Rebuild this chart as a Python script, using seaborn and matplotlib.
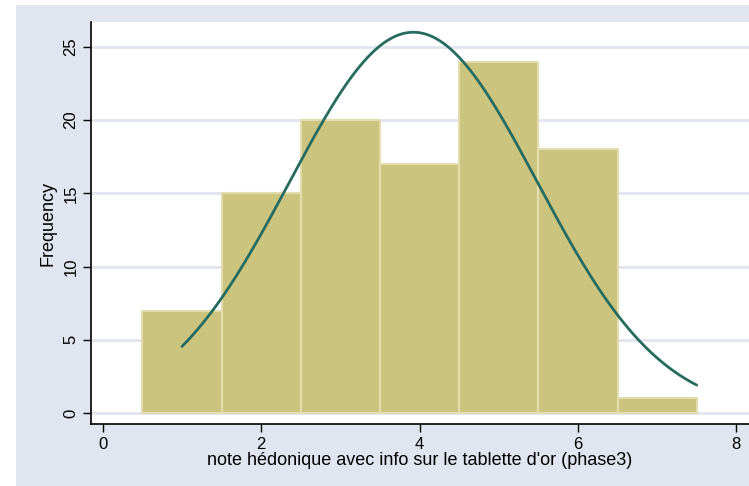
import numpy as np
import pandas as pd
import matplotlib
matplotlib.use("Agg")
import matplotlib.pyplot as plt
import seaborn as sns

# histogram data (bin centres, counts)
bin_centers = [1, 2, 3, 4, 5, 6, 7]
counts = [7, 15, 20, 17, 24, 18, 1]
bin_edges = [0.5, 1.5, 2.5, 3.5, 4.5, 5.5, 6.5, 7.5]
x_ticks = [0, 2, 4, 6, 8]
y_ticks = [0, 5, 10, 15, 20, 25]
curve_range = [1.0, 7.5]

xlabel = "note hédonique avec info sur le tablette d'or (phase3)"
ylabel = "Frequency"

df = pd.DataFrame({"note": bin_centers, "n": counts})

# normal curve fitted to the binned data, scaled to frequency
n_tot = df["n"].sum()
mu = (df["note"] * df["n"]).sum() / n_tot
sd = np.sqrt(((df["note"] - mu) ** 2 * df["n"]).sum() / (n_tot - 1))
xs = np.linspace(curve_range[0], curve_range[1], 200)
width = bin_edges[1] - bin_edges[0]
ys = n_tot * width * np.exp(-0.5 * ((xs - mu) / sd) ** 2) / (sd * np.sqrt(2 * np.pi))
curve = pd.DataFrame({"x": xs, "y": ys})

sns.set_style("white")
plt.rcParams['font.family'] = ['Liberation Sans', 'DejaVu Sans']
plt.rcParams['text.color'] = 'black'
plt.rcParams['xtick.color'] = 'black'
plt.rcParams['ytick.color'] = 'black'
plt.rcParams['axes.labelcolor'] = 'black'

fig = plt.figure(figsize=(7.49, 4.86), dpi=100)
fig.patch.set_facecolor("white")
# Stata style graph region (behind the plot area)
bg = plt.Rectangle((16 / 749, 0), 1, 1 - 5 / 486, transform=fig.transFigure,
                   facecolor="#e1e5f0", edgecolor="none", zorder=-10)
fig.add_artist(bg)

ax = fig.add_axes([91 / 749, 62 / 486, 1 - 91 / 749, (424 - 22) / 486])
ax.set_zorder(1)
ax.set_facecolor("white")

sns.histplot(data=df, x="note", weights="n", bins=bin_edges, ax=ax,
             color="#cbc47f", alpha=1, edgecolor="#e3ddae", linewidth=1.5, zorder=2)
sns.lineplot(data=curve, x="x", y="y", ax=ax, color="#266b60", linewidth=2, zorder=3)

ax.set_xlim(-0.15, 8.16)
ax.set_ylim(-0.75, 26.7)
ax.set_xticks(x_ticks)
ax.set_yticks(y_ticks)
for t in y_ticks:
    ax.axhline(t, color="#e1e5f0", linewidth=2, zorder=1)

for s in ["top", "right"]:
    ax.spines[s].set_visible(False)
for s in ["left", "bottom"]:
    ax.spines[s].set_color("black")
    ax.spines[s].set_linewidth(1.2)

ax.tick_params(axis="both", direction="out", length=6, width=1, color="black",
               labelcolor="black", labelsize=12, pad=3, bottom=True, left=True)
plt.setp(ax.get_yticklabels(), rotation=90, va="center")

ax.set_xlabel(xlabel, fontsize=13, labelpad=0.5)
ax.set_ylabel(ylabel, fontsize=13, labelpad=5)

fig.savefig("out.png", dpi=100, facecolor=fig.get_facecolor())
